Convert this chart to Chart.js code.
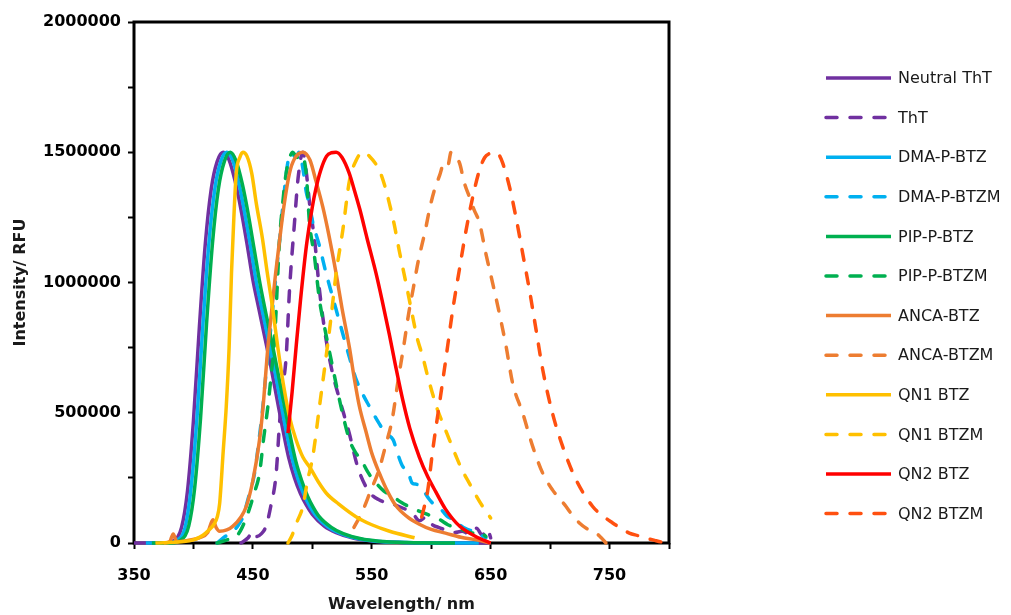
<!DOCTYPE html>
<html>
<head>
<meta charset="utf-8">
<script src="https://cdn.jsdelivr.net/npm/chart.js@4.4.1/dist/chart.umd.min.js"></script>
<style>
  html, body { margin: 0; padding: 0; background: #fff; }
  #wrap { width: 1011px; height: 615px; position: relative; }
</style>
</head>
<body>
<div id="wrap"><canvas id="spectraChart"></canvas></div>
<script>
// Spectres d'émission normalisés

const seriesNames = ['Neutral ThT', 'ThT', 'DMA-P-BTZ', 'DMA-P-BTZM', 'PIP-P-BTZ', 'PIP-P-BTZM',
    'ANCA-BTZ', 'ANCA-BTZM', 'QN1 BTZ', 'QN1 BTZM', 'QN2 BTZ', 'QN2 BTZM'];

const xTickLabels = [350, 450, 550, 650, 750];
const yTickLabels = [0, 500000, 1000000, 1500000, 2000000];

// Neutral ThT
const neutralThtWl = [350, 375, 383, 390, 395, 400, 405, 410, 415, 420, 425, 430, 435, 440, 445, 450, 455, 460, 465, 470, 475, 480, 485, 490, 495, 500, 510, 520, 535, 550, 575, 600, 650];
const neutralThtInt = [0, 0, 8000, 60000, 200000, 470000, 830000, 1150000, 1360000, 1465000, 1500000, 1470000, 1390000, 1280000, 1150000, 1010000, 900000, 790000, 680000, 560000, 440000, 330000, 250000, 190000, 145000, 110000, 65000, 40000, 18000, 8000, 2000, 0, 0];

// ThT
const thtWl = [440, 446, 450, 453, 457, 461, 465, 469.6, 472.4, 475, 478, 480.8, 485, 488, 492, 495, 498, 502, 506, 511.6, 517, 523, 531, 538, 545, 551, 556, 562, 567, 573, 579, 585, 590, 595.6, 601, 606, 612, 619, 626, 632, 638, 643, 647, 650];
const thtInt = [0, 20000, 45000, 25000, 35000, 64000, 140000, 268000, 460000, 590000, 716000, 971000, 1230000, 1400000, 1500000, 1420000, 1290000, 1160000, 971000, 780000, 652000, 550000, 422000, 294000, 217000, 180000, 166000, 155000, 150000, 140000, 128000, 110000, 85000, 100000, 70000, 60000, 50000, 40000, 45000, 35000, 57000, 30000, 55000, 20000];

// DMA-P-BTZ
const dmaBtzWl = [360, 378, 386, 393, 398, 403, 408, 413, 418, 423, 428, 433, 438, 443, 448, 453, 458, 463, 468, 473, 478, 483, 488, 493, 498, 503, 513, 523, 538, 553, 578, 610, 640];
const dmaBtzInt = [0, 0, 10000, 60000, 210000, 480000, 840000, 1150000, 1360000, 1465000, 1500000, 1470000, 1385000, 1270000, 1140000, 1000000, 890000, 780000, 670000, 550000, 430000, 325000, 245000, 185000, 140000, 105000, 62000, 38000, 17000, 7000, 2000, 0, 0];

// DMA-P-BTZM
const dmaBtzmWl = [420, 425, 432, 438, 441.6, 446, 451.4, 455, 458.4, 461, 464, 468, 472.4, 476, 479, 482, 486, 489, 492, 494.8, 497.5, 500.4, 506, 511.6, 517, 524, 531, 537, 542, 548, 556, 562, 568, 572, 576, 580, 584, 588, 593, 598, 604, 609, 614, 619, 624, 629, 635, 640.5, 646];
const dmaBtzmInt = [0, 20000, 40000, 70000, 100000, 170000, 268000, 390000, 524000, 650000, 780000, 960000, 1160000, 1330000, 1450000, 1500000, 1480000, 1500000, 1440000, 1350000, 1300000, 1230000, 1140000, 1035000, 946000, 830000, 716000, 626000, 575000, 524000, 460000, 420000, 396000, 340000, 294000, 280000, 230000, 225000, 204000, 170000, 140000, 125000, 100000, 90000, 70000, 55000, 45000, 32000, 20000];

// PIP-P-BTZ
const pipBtzWl = [365, 381, 389, 396, 401, 406, 411, 416, 421, 426, 431, 436, 441, 446, 451, 456, 461, 466, 471, 476, 481, 486, 491, 496, 501, 506, 516, 526, 541, 556, 580, 620];
const pipBtzInt = [0, 0, 10000, 65000, 210000, 480000, 840000, 1150000, 1360000, 1465000, 1500000, 1465000, 1380000, 1265000, 1130000, 995000, 880000, 770000, 655000, 540000, 420000, 315000, 240000, 180000, 135000, 100000, 60000, 36000, 16000, 7000, 2000, 0];

// PIP-P-BTZM
const pipBtzmWl = [420, 430, 436, 441, 447, 451, 455.6, 459, 462.6, 465.5, 468.2, 472.4, 475, 478, 481, 483.6, 487, 491, 494.8, 497.6, 501.8, 506, 510.2, 517, 522.8, 531.2, 536, 541, 547, 553.6, 560, 567.6, 575, 587, 594, 601, 607, 614, 621, 628, 635, 640, 646];
const pipBtzmInt = [0, 15000, 25000, 60000, 130000, 190000, 268000, 400000, 524000, 650000, 780000, 1160000, 1300000, 1420000, 1480000, 1500000, 1480000, 1490000, 1420000, 1230000, 1100000, 933000, 830000, 677000, 550000, 396000, 350000, 320000, 270000, 230000, 200000, 179000, 155000, 128000, 115000, 102000, 90000, 70000, 58000, 48000, 38000, 45000, 25000];

// ANCA-BTZ
const ancaBtzWl = [375, 380, 383, 386, 395, 405, 412, 416.4, 419, 422, 428, 433, 440, 444.4, 450, 455.6, 458.5, 462.6, 466, 469, 472.4, 476, 480.8, 485, 492, 498, 503, 508.8, 514, 520, 525, 531.2, 535, 539.6, 545, 550, 556.4, 563, 570, 580, 590, 600, 612, 625, 638, 650];
const ancaBtzInt = [0, 5000, 35000, 5000, 10000, 20000, 40000, 89000, 60000, 45000, 50000, 64000, 100000, 140000, 240000, 396000, 520000, 750000, 900000, 1030000, 1160000, 1290000, 1420000, 1475000, 1500000, 1470000, 1390000, 1290000, 1180000, 1035000, 900000, 750000, 640000, 524000, 430000, 345000, 268000, 200000, 145000, 100000, 72000, 52000, 38000, 22000, 12000, 0];

// ANCA-BTZM
const ancaBtzmWl = [535, 542, 549, 556, 562, 567, 572, 577, 581, 585, 589, 595, 599, 603, 607, 611, 614, 616.7, 620, 623.7, 628, 632, 636, 640.5, 646, 651.7, 657.3, 663, 668.5, 677, 685.4, 693.8, 702, 708, 713.4, 719, 724.6, 731, 738.6, 743, 747];
const ancaBtzmInt = [60000, 120000, 200000, 280000, 380000, 470000, 620000, 760000, 880000, 980000, 1080000, 1200000, 1290000, 1360000, 1410000, 1460000, 1450000, 1500000, 1480000, 1460000, 1380000, 1330000, 1280000, 1230000, 1110000, 997000, 882000, 754000, 613000, 498000, 370000, 268000, 204000, 170000, 140000, 105000, 77000, 55000, 38000, 20000, 0];

// QN1 BTZ
const qn1BtzWl = [368, 390, 400, 408, 413, 417, 420, 422, 425, 427.6, 430, 432, 434, 436, 439, 441.6, 445, 449, 453, 458, 462, 466, 471, 476, 481, 486, 492, 498, 505, 512, 522, 537, 550, 565, 586];
const qn1BtzInt = [0, 5000, 12000, 30000, 50000, 70000, 100000, 150000, 350000, 524000, 750000, 1035000, 1250000, 1420000, 1480000, 1500000, 1485000, 1420000, 1300000, 1170000, 1040000, 920000, 750000, 600000, 480000, 400000, 330000, 290000, 235000, 190000, 150000, 100000, 70000, 45000, 20000];

// QN1 BTZM
const qn1BtzmWl = [479.5, 483, 487, 492, 496, 500.4, 506, 511.6, 515.8, 520, 525.6, 531.2, 537, 542.4, 548, 556.4, 561, 565, 569, 573.2, 578.8, 584.4, 588, 592.8, 597, 601, 605, 609.7, 615, 621, 626, 632, 638, 643.3, 650];
const qn1BtzmInt = [0, 30000, 80000, 140000, 240000, 332000, 524000, 716000, 869000, 1035000, 1200000, 1390000, 1470000, 1500000, 1485000, 1430000, 1370000, 1300000, 1220000, 1120000, 997000, 869000, 790000, 716000, 640000, 575000, 515000, 460000, 400000, 332000, 280000, 230000, 180000, 140000, 96000];

// QN2 BTZ
const qn2BtzWl = [479.5, 483, 486.5, 490, 495, 500, 503, 507, 512, 516, 520, 525, 531, 535, 540, 546, 553.6, 559, 564.8, 570, 576, 582, 590, 597, 604, 612, 624, 640, 650];
const qn2BtzInt = [422000, 580000, 760000, 930000, 1140000, 1290000, 1360000, 1430000, 1485000, 1498000, 1500000, 1480000, 1420000, 1360000, 1280000, 1170000, 1035000, 925000, 800000, 680000, 550000, 440000, 330000, 255000, 195000, 130000, 64000, 19000, 0];

// QN2 BTZM
const qn2BtzmWl = [592, 597, 601.3, 607, 612.6, 618.1, 623.7, 629.3, 635, 640.5, 645, 649, 653, 657, 660, 665.7, 671.3, 677, 682.6, 688.2, 693.8, 702, 710.6, 721.8, 735.8, 744, 752.6, 760, 766.6, 774, 780.6, 788, 794.6, 800];
const qn2BtzmInt = [100000, 200000, 358000, 537000, 716000, 895000, 1050000, 1200000, 1330000, 1430000, 1480000, 1495000, 1500000, 1490000, 1460000, 1370000, 1250000, 1110000, 971000, 818000, 665000, 498000, 370000, 243000, 140000, 105000, 77000, 55000, 38000, 28000, 19000, 10000, 3000, 0];

const seriesWl = [neutralThtWl, thtWl, dmaBtzWl, dmaBtzmWl, pipBtzWl, pipBtzmWl, ancaBtzWl, ancaBtzmWl, qn1BtzWl, qn1BtzmWl, qn2BtzWl, qn2BtzmWl];
const seriesInt = [neutralThtInt, thtInt, dmaBtzInt, dmaBtzmInt, pipBtzInt, pipBtzmInt, ancaBtzInt, ancaBtzmInt, qn1BtzInt, qn1BtzmInt, qn2BtzInt, qn2BtzmInt];
const seriesColors = ['#7030A0', '#7030A0', '#00B0F0', '#00B0F0', '#00B050', '#00B050',
    '#ED7D31', '#ED7D31', '#FFC000', '#FFC000', '#FF0000', '#FF5010'];

const DASH = [11, 13];
const FONT = "'DejaVu Sans', sans-serif";

const datasets = seriesNames.map((name, i) => ({
    label: name,
    data: seriesWl[i].map((w, k) => ({ x: w, y: seriesInt[i][k] })),
    borderColor: seriesColors[i],
    backgroundColor: seriesColors[i],
    borderWidth: 3.5,
    borderDash: i % 2 === 1 ? DASH : [],
    borderCapStyle: i % 2 === 1 ? 'round' : 'butt',
    pointRadius: 0,
    fill: false,
    cubicInterpolationMode: 'monotone',
    clip: false,
    order: seriesNames.length - i
}));

// cadre noir autour de la zone de tracé
const frame = {
    id: 'frame',
    beforeDatasetsDraw(chart) {
        const { ctx, chartArea: a } = chart;
        ctx.save();
        ctx.strokeStyle = '#000';
        ctx.lineWidth = 3;
        ctx.strokeRect(a.left, a.top, a.right - a.left, a.bottom - a.top);
        ctx.restore();
    }
};

// légende à droite, comme Excel
const sideLegend = {
    id: 'sideLegend',
    afterDraw(chart) {
        const ctx = chart.ctx;
        ctx.save();
        chart.data.datasets.forEach((ds, i) => {
            const y = 78 + 39.6 * i;
            ctx.beginPath();
            ctx.setLineDash(ds.borderDash);
            ctx.lineCap = ds.borderCapStyle;
            ctx.strokeStyle = ds.borderColor;
            ctx.lineWidth = 3.5;
            ctx.moveTo(826, y);
            ctx.lineTo(891, y);
            ctx.stroke();
            ctx.setLineDash([]);
            ctx.fillStyle = '#1a1a1a';
            ctx.font = '16px ' + FONT;
            ctx.textBaseline = 'middle';
            ctx.textAlign = 'left';
            ctx.fillText(ds.label, 898, y + 1);
        });
        ctx.restore();
    }
};

const ctx = document.getElementById('spectraChart').getContext('2d');
new Chart(ctx, {
    type: 'line',
    data: { datasets: datasets },
    plugins: [frame, sideLegend],
    options: {
        responsive: true,
        maintainAspectRatio: false,
        animation: false,
        layout: { padding: { left: 0, top: 22, right: 342, bottom: 0 } },
        plugins: {
            legend: { display: false },
            tooltip: { enabled: false }
        },
        scales: {
            x: {
                type: 'linear',
                min: 350,
                max: 800,
                afterFit: (s) => { s.height = 72; },
                border: { display: false },
                grid: { drawOnChartArea: false, tickLength: 6, tickColor: '#000', tickWidth: 2 },
                ticks: {
                    stepSize: 50,
                    padding: 17,
                    color: '#000',
                    maxRotation: 0,
                    autoSkip: false,
                    font: { family: FONT, size: 16, weight: 'bold' },
                    callback: (v) => xTickLabels.includes(v) ? String(v) : ''
                },
                title: {
                    display: true,
                    text: 'Wavelength/ nm',
                    color: '#1a1a1a',
                    padding: { top: 0, bottom: 1 },
                    font: { family: FONT, size: 16, weight: 'bold' }
                }
            },
            y: {
                min: 0,
                max: 2000000,
                afterFit: (s) => { s.width = 134; },
                border: { display: false },
                grid: { drawOnChartArea: false, tickLength: 6, tickColor: '#000', tickWidth: 2 },
                ticks: {
                    stepSize: 250000,
                    padding: 7,
                    color: '#000',
                    autoSkip: false,
                    font: { family: FONT, size: 16, weight: 'bold' },
                    callback: (v) => yTickLabels.includes(v) ? String(v) : ''
                },
                title: {
                    display: true,
                    text: 'Intensity/ RFU',
                    color: '#1a1a1a',
                    padding: { top: 11, bottom: 4 },
                    font: { family: FONT, size: 16, weight: 'bold' }
                }
            }
        }
    }
});
</script>
</body>
</html>
